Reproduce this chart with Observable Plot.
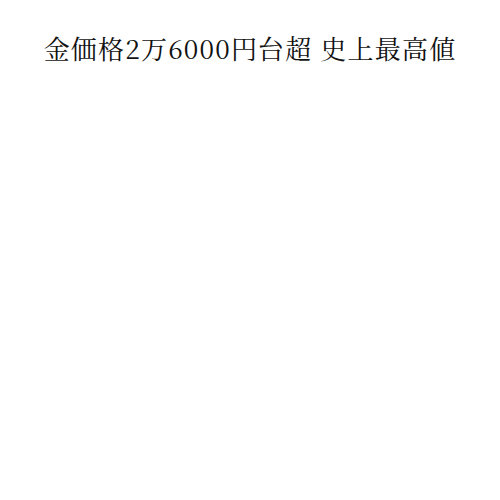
<!DOCTYPE html>
<html>
<head>
<meta charset="utf-8">
<script src="https://cdn.jsdelivr.net/npm/d3@7"></script>
<script src="https://cdn.jsdelivr.net/npm/@observablehq/plot@0.6"></script>
<style>
  html, body { margin: 0; padding: 0; background: #fff; }
  #title { margin: 0; padding-top: 28px; height: 40px; text-align: center;
    font-family: "Noto Serif CJK JP", "Noto Sans CJK JP", serif; font-weight: 400;
    font-size: 26px; line-height: 40px; color: #111; letter-spacing: 1.2px; }
</style>
</head>
<body>
<div id="title">金価格2万6000円台超 史上最高値</div>
<div id="chart"></div>
<script>
const titleText = "金価格2万6000円台超 史上最高値";
const dates = [];
const prices = [];
const data = dates.map((d, i) => ({date: d, price: prices[i]}));
const chart = Plot.plot({
  width: 500,
  height: 420,
  x: {axis: null},
  y: {axis: null},
  marks: [
    Plot.line(data, {x: "date", y: "price", stroke: "#c8a200"})
  ]
});
document.getElementById("chart").appendChild(chart);
</script>
</body>
</html>
